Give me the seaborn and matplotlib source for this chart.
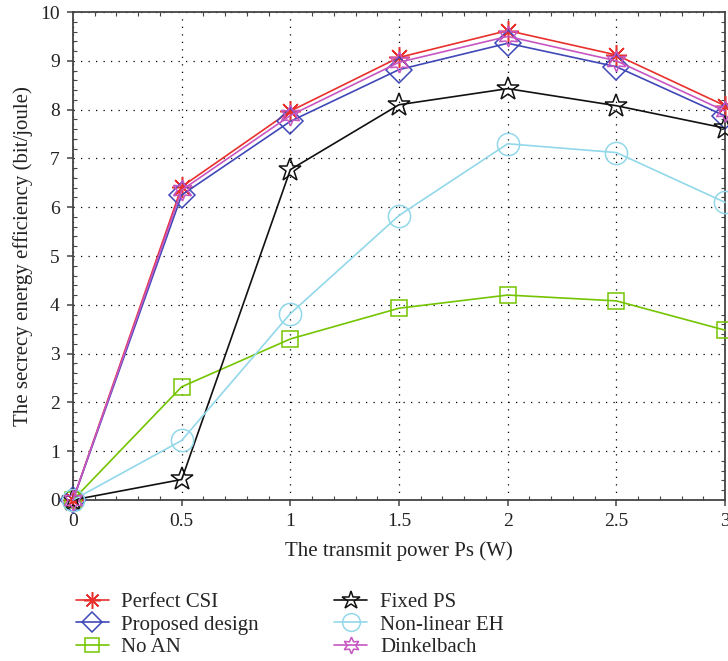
import numpy as np
import pandas as pd
import matplotlib
matplotlib.use("Agg")
import matplotlib.pyplot as plt
import seaborn as sns
from matplotlib.ticker import MultipleLocator

power = [0, 0.5, 1, 1.5, 2, 2.5, 3]
perfect_csi = [0, 6.42, 7.97, 9.07, 9.62, 9.12, 8.08]
proposed = [0, 6.25, 7.76, 8.82, 9.36, 8.88, 7.87]
no_an = [0, 2.32, 3.30, 3.93, 4.20, 4.08, 3.48]
fixed_ps = [0, 0.42, 6.77, 8.10, 8.43, 8.08, 7.62]
nonlinear_eh = [0, 1.22, 3.82, 5.83, 7.30, 7.12, 6.10]
dinkelbach = [0, 6.35, 7.88, 8.97, 9.50, 9.00, 7.97]

series_names = ["Perfect CSI", "Proposed design", "No AN", "Fixed PS", "Non-linear EH", "Dinkelbach"]
series_values = [perfect_csi, proposed, no_an, fixed_ps, nonlinear_eh, dinkelbach]
x_tick_labels = ["0", "0.5", "1", "1.5", "2", "2.5", "3"]

sns.set_style("white")
plt.rcParams['font.family'] = ['Liberation Serif', 'DejaVu Serif']

colors = ["#e8302c", "#4048b8", "#74c400", "#111111", "#92d8ea", "#c656c2"]
markers = [(8, 2, 0), "D", "s", "*", "o", (6, 1, 0)]
msizes = [15, 13, 12, 17, 16, 15]

fig = plt.figure(figsize=(7.28, 6.61), dpi=100)
ax = fig.add_axes([0.1003, 0.2436, 0.8956, 0.7382])

rows = []
for name, vals in zip(series_names, series_values):
    for x, y in zip(power, vals):
        rows.append({"x": x, "y": y, "series": name})
df = pd.DataFrame(rows)

for i, name in enumerate(series_names):
    sub = df[df["series"] == name]
    sns.lineplot(data=sub, x="x", y="y", ax=ax, color=colors[i], marker=markers[i],
                 markersize=msizes[i], markerfacecolor="none", markeredgecolor=colors[i],
                 markeredgewidth=1.1, linewidth=1.2, label=name, clip_on=False, zorder=3)

ax.set_xlim(0, 3)
ax.set_ylim(0, 10)
ax.xaxis.set_minor_locator(MultipleLocator(0.1))
ax.yaxis.set_major_locator(MultipleLocator(1))
ax.yaxis.set_minor_locator(MultipleLocator(0.2))
ax.set_xticks(power)
ax.set_xticklabels(x_tick_labels)
ax.tick_params(which="major", direction="out", top=False, right=False, bottom=True, left=True,
               length=4.5, width=1.1, pad=5, labelsize=14, color="#444444", labelcolor="#222222")
ax.tick_params(which="minor", direction="in", top=True, right=True, bottom=True, left=True,
               length=3, width=0.8, color="#444444")
ax.grid(True, which="major", linestyle=(0, (1, 5)), color="black", linewidth=0.9)
for s in ax.spines.values():
    s.set_color("#444444")
    s.set_linewidth(1.3)

ax.set_xlabel("The transmit power Ps (W)", fontsize=15, labelpad=8, color="#222222")
ax.set_ylabel("The secrecy energy efficiency (bit/joule)", fontsize=15, labelpad=5, color="#222222")

ax.legend(loc="upper left", bbox_to_anchor=(0.004, -0.19), ncol=2, frameon=False,
          fontsize=15, handlelength=1.6, columnspacing=3.6, labelspacing=0.14,
          handletextpad=0.6, borderaxespad=0, borderpad=0, markerscale=0.8)

fig.savefig("out.png", dpi=100)
